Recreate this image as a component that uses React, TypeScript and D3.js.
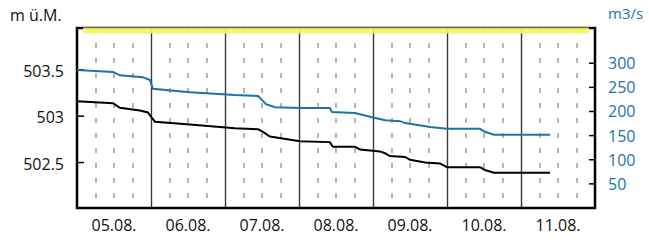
import React, { useEffect, useRef } from "react";
import * as d3 from "d3";

// hours since 05.08. 00:00
const levelHours = [0, 11.7, 13.9, 20.4, 23.0, 24.3, 25.3, 36.6, 51.2, 58.7, 60.3, 62.6, 72.3, 82, 83, 90.2, 91.8, 98.3, 99.9, 101.5, 106.4, 108, 112.9, 117.7, 120, 130.7, 132.3, 135.2, 153.4];
const levelValues = [503.16, 503.14, 503.09, 503.06, 503.04, 502.98, 502.94, 502.91, 502.87, 502.86, 502.83, 502.78, 502.73, 502.72, 502.67, 502.67, 502.64, 502.62, 502.6, 502.57, 502.56, 502.53, 502.5, 502.49, 502.45, 502.45, 502.42, 502.39, 502.39];

const flowHours = [0, 11.7, 13.9, 21.4, 23.7, 24.6, 36.6, 51.2, 58.7, 60.3, 61.3, 64.2, 72.3, 82, 82.7, 90.2, 95, 99.9, 104.8, 106.4, 114.5, 120, 130.7, 132.3, 135.2, 153.4];
const flowValues = [286, 282, 275, 271, 265, 247, 240, 234, 232, 222, 215, 209, 207, 207, 199, 197, 189, 182, 180, 176, 168, 164, 164, 158, 152, 152];

const levelTicks = [502.5, 503, 503.5];
const flowTicks = [50, 100, 150, 200, 250, 300];

const startDate = new Date(2024, 7, 5);
const endDate = new Date(2024, 7, 12);

const BLUE = "#1c74a6";
const FONT = "'Open Sans', sans-serif";

const App: React.FC = () => {
  const svgRef = useRef<SVGSVGElement>(null);
  const width = 649;
  const height = 240;
  const margin = { top: 28, right: 54, bottom: 32, left: 77 };

  useEffect(() => {
    if (!svgRef.current) return;
    const svg = d3.select(svgRef.current);
    svg.selectAll("*").remove();

    const x = d3
      .scaleTime()
      .domain([startDate, endDate])
      .range([margin.left, width - margin.right]);

    const yLevel = d3
      .scaleLinear()
      .domain([502.01, 503.95])
      .range([height - margin.bottom, margin.top]);

    const yFlow = d3
      .scaleLinear()
      .domain([0, 373])
      .range([height - margin.bottom, margin.top]);

    const toDate = (h: number) => new Date(startDate.getTime() + h * 3600 * 1000);
    const top = margin.top;
    const bottom = height - margin.bottom;
    const left = margin.left;
    const right = width - margin.right;

    // 6-hour dashed lines
    const sixHours = d3.timeHour
      .every(6)!
      .range(startDate, endDate)
      .filter((d) => d.getHours() !== 0);
    svg
      .append("g")
      .selectAll("line")
      .data(sixHours)
      .join("line")
      .attr("x1", (d) => Math.round(x(d)))
      .attr("x2", (d) => Math.round(x(d)))
      .attr("y1", top)
      .attr("y2", bottom)
      .attr("stroke", "#9a9a9a")
      .attr("stroke-width", 1.5)
      .attr("stroke-dasharray", "5,10");

    // day lines
    const days = d3.timeDay.range(d3.timeDay.offset(startDate, 1), endDate);
    svg
      .append("g")
      .selectAll("line")
      .data(days)
      .join("line")
      .attr("x1", (d) => Math.round(x(d)) + 0.5)
      .attr("x2", (d) => Math.round(x(d)) + 0.5)
      .attr("y1", top)
      .attr("y2", bottom)
      .attr("stroke", "#3a3a3a")
      .attr("stroke-width", 1.4);

    // frame
    svg
      .append("rect")
      .attr("x", left)
      .attr("y", top)
      .attr("width", right - left)
      .attr("height", bottom - top)
      .attr("fill", "none")
      .attr("stroke", "#000")
      .attr("stroke-width", 2.5);

    // yellow band on top
    svg
      .append("rect")
      .attr("x", left + 6)
      .attr("y", top - 0.5)
      .attr("width", right - left - 12)
      .attr("height", 6)
      .attr("fill", "#f4f466")
      .attr("opacity", 0.9);

    // left ticks
    svg
      .append("g")
      .selectAll("line")
      .data(levelTicks)
      .join("line")
      .attr("x1", left)
      .attr("x2", left + 7)
      .attr("y1", (d) => yLevel(d))
      .attr("y2", (d) => yLevel(d))
      .attr("stroke", "#000")
      .attr("stroke-width", 1.5);

    svg
      .append("g")
      .selectAll("text")
      .data(levelTicks)
      .join("text")
      .attr("x", 64)
      .attr("y", (d) => yLevel(d) + 7)
      .attr("text-anchor", "end")
      .attr("font-family", FONT)
      .attr("font-size", 16)
      .attr("fill", "#111")
      .text((d) => String(d));

    // right ticks
    svg
      .append("g")
      .selectAll("line")
      .data(flowTicks)
      .join("line")
      .attr("x1", right - 6)
      .attr("x2", right)
      .attr("y1", (d) => yFlow(d))
      .attr("y2", (d) => yFlow(d))
      .attr("stroke", "#000")
      .attr("stroke-width", 1.5);

    svg
      .append("g")
      .selectAll("text")
      .data(flowTicks)
      .join("text")
      .attr("x", 608)
      .attr("y", (d) => yFlow(d) + 6)
      .attr("font-family", FONT)
      .attr("font-size", 16)
      .attr("fill", BLUE)
      .text((d) => String(d));

    // day labels at noon
    const fmt = d3.timeFormat("%d.%m.");
    svg
      .append("g")
      .selectAll("text")
      .data(d3.timeDay.range(startDate, endDate))
      .join("text")
      .attr("x", (d) => x(d3.timeHour.offset(d, 12)))
      .attr("y", 231)
      .attr("text-anchor", "middle")
      .attr("font-family", FONT)
      .attr("font-size", 16)
      .attr("fill", "#111")
      .text((d) => fmt(d));

    // units
    svg
      .append("text")
      .attr("x", 10)
      .attr("y", 21)
      .attr("font-family", FONT)
      .attr("font-size", 16)
      .attr("fill", "#111")
      .text("m ü.M.");

    svg
      .append("text")
      .attr("x", 608)
      .attr("y", 19)
      .attr("font-family", FONT)
      .attr("font-size", 15)
      .attr("fill", BLUE)
      .text("m3/s");

    // lines
    const flowLine = d3
      .line<number>()
      .x((h) => x(toDate(h)))
      .y((_, i) => yFlow(flowValues[i]));
    svg
      .append("path")
      .datum(flowHours)
      .attr("d", flowLine)
      .attr("fill", "none")
      .attr("stroke", BLUE)
      .attr("stroke-width", 2);

    const levelLine = d3
      .line<number>()
      .x((h) => x(toDate(h)))
      .y((_, i) => yLevel(levelValues[i]));
    svg
      .append("path")
      .datum(levelHours)
      .attr("d", levelLine)
      .attr("fill", "none")
      .attr("stroke", "#000")
      .attr("stroke-width", 2);
  }, []);

  return (
    <svg
      ref={svgRef}
      width={width}
      height={height}
      style={{ position: "absolute", left: 0, top: 0, background: "#fff" }}
    ></svg>
  );
};

export default App;
